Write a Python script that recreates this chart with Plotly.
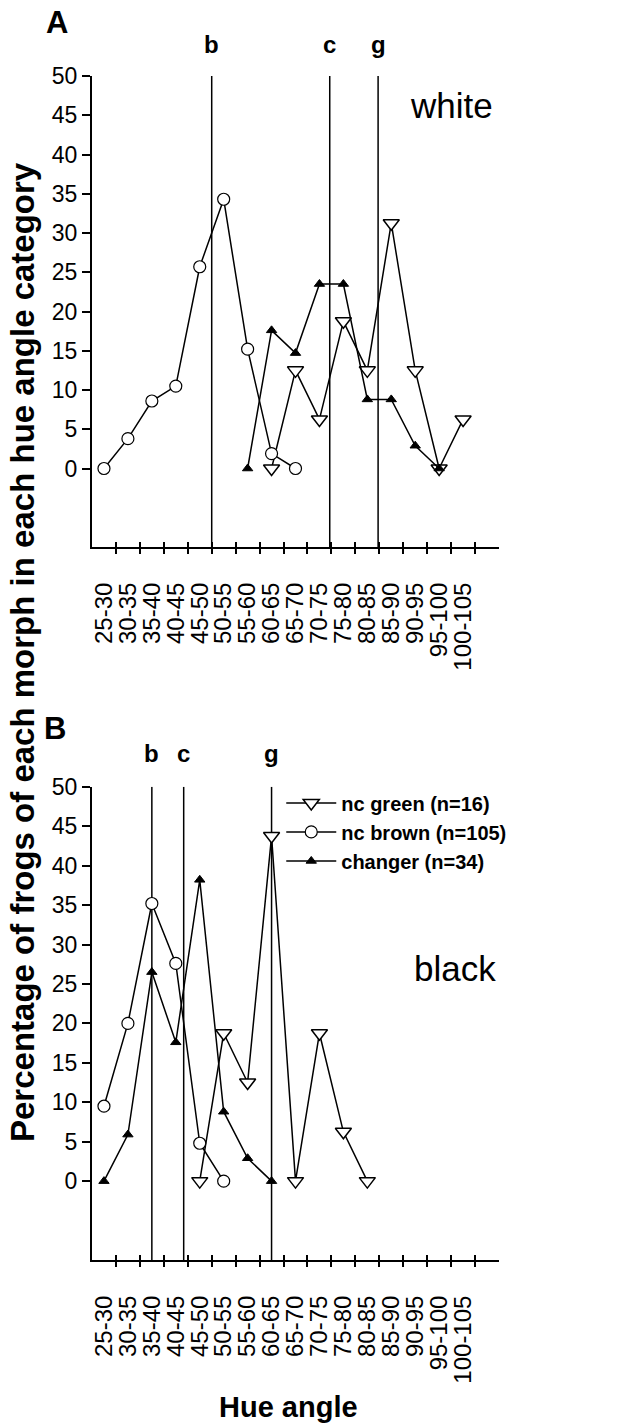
import plotly.graph_objects as go

# ---------------- data ----------------
categories = ["25-30", "30-35", "35-40", "40-45", "45-50", "50-55", "55-60", "60-65",
              "65-70", "70-75", "75-80", "80-85", "85-90", "90-95", "95-100", "100-105"]

# Panel A: white background
white_green = [None, None, None, None, None, None, None, 0.0, 12.5, 6.25, 18.75, 12.5, 31.25, 12.5, 0.0, 6.25]
white_brown = [0.0, 3.8, 8.6, 10.5, 25.7, 34.3, 15.2, 1.9, 0.0, None, None, None, None, None, None, None]
white_changer = [None, None, None, None, None, None, 0.0, 17.6, 14.7, 23.5, 23.5, 8.8, 8.8, 2.9, 0.0, None]

# Panel B: black background
black_green = [None, None, None, None, 0.0, 18.75, 12.5, 43.75, 0.0, 18.75, 6.25, 0.0, None, None, None, None]
black_brown = [9.5, 20.0, 35.2, 27.6, 4.8, 0.0, None, None, None, None, None, None, None, None, None, None]
black_changer = [0.0, 5.9, 26.5, 17.6, 38.2, 8.8, 2.9, 0.0, None, None, None, None, None, None, None, None]

# reference hue angles (in category-index units) for b, c, g
white_refs = {"b": 4.5, "c": 9.43, "g": 11.45}
black_refs = {"b": 2.0, "c": 3.33, "g": 7.0}

series_names = ["nc green (n=16)", "nc brown (n=105)", "changer (n=34)"]
y_ticks = [0, 5, 10, 15, 20, 25, 30, 35, 40, 45, 50]

# ---------------- figure ----------------
FONT = "Liberation Sans, Arial, sans-serif"
x_idx = list(range(len(categories)))
boundaries = [i + 0.5 for i in range(len(categories))]

styles = [
    dict(symbol="triangle-down", size=14, color="white", line=dict(color="black", width=1.5)),
    dict(symbol="circle", size=12, color="white", line=dict(color="black", width=1.2)),
    dict(symbol="triangle-up", size=9, color="black", line=dict(color="black", width=1)),
]

fig = go.Figure()

panels = [
    ("x", "y", [white_green, white_brown, white_changer], False),
    ("x2", "y2", [black_green, black_brown, black_changer], True),
]
for xa, ya, data, show in panels:
    for name, vals, st in zip(series_names, data, styles):
        fig.add_trace(go.Scatter(
            x=x_idx, y=vals, mode="lines+markers", name=name,
            xaxis=xa, yaxis=ya, showlegend=show,
            line=dict(color="black", width=1.5),
            marker=st, cliponaxis=False,
        ))

# invisible traces on overlay axes (for inward half of crossing ticks)
fig.add_trace(go.Scatter(x=[], y=[], xaxis="x3", yaxis="y", showlegend=False, hoverinfo="skip"))
fig.add_trace(go.Scatter(x=[], y=[], xaxis="x4", yaxis="y2", showlegend=False, hoverinfo="skip"))

xr = [-0.5, 16.5]
yr = [-10, 50]

def xaxis_cfg(anchor):
    return dict(
        range=xr, anchor=anchor, domain=[0, 1],
        tickmode="array", tickvals=x_idx, ticktext=categories, tickangle=-90,
        ticks="", showgrid=False, zeroline=False,
        showline=True, linecolor="black", linewidth=2,
        tickfont=dict(family=FONT, size=24, color="black"),
        ticklabelstandoff=24,
        minor=dict(tickmode="array", tickvals=boundaries, ticks="outside",
                   ticklen=5, tickwidth=1.5, tickcolor="black", showgrid=False),
    )

def overlay_cfg(over, anchor):
    return dict(
        overlaying=over, anchor=anchor, range=xr, tickmode="array", tickvals=boundaries,
        ticks="inside", ticklen=5, tickwidth=1.5, tickcolor="black",
        showticklabels=False, showline=False, showgrid=False, zeroline=False,
    )

def yaxis_cfg(domain, anchor):
    return dict(
        range=yr, domain=domain, anchor=anchor,
        tickmode="array", tickvals=y_ticks, ticks="outside", ticklen=8, tickwidth=1.5,
        tickcolor="black", showgrid=False, zeroline=False,
        showline=True, linecolor="black", linewidth=2,
        tickfont=dict(family=FONT, size=23, color="black"),
    )

fig.update_layout(
    width=619, height=1425,
    margin=dict(l=92, r=120, t=76, b=165),
    paper_bgcolor="white", plot_bgcolor="white",
    font=dict(family=FONT, color="black"),
    xaxis=xaxis_cfg("y"),
    xaxis2=xaxis_cfg("y2"),
    xaxis3=overlay_cfg("x", "y"),
    xaxis4=overlay_cfg("x2", "y2"),
    yaxis=yaxis_cfg([0.6022, 1.0], "x"),
    yaxis2=yaxis_cfg([0.0, 0.3997], "x2"),
    legend=dict(
        x=0.465, y=0.4025, xanchor="left", yanchor="top",
        font=dict(family=FONT, size=20, color="black", weight="bold"),
        bgcolor="rgba(0,0,0,0)", itemwidth=50, tracegroupgap=0,
    ),
    showlegend=True,
)

# reference lines
shapes = []
annotations = []
for refs, xref, yref, lab_y in [(white_refs, "x", "y", 1.0262), (black_refs, "x2", "y2", 0.4282)]:
    for lab, xv in refs.items():
        shapes.append(dict(type="line", xref=xref, yref=yref, x0=xv, x1=xv, y0=-10, y1=50,
                           line=dict(color="black", width=1.5), layer="below"))
        annotations.append(dict(text=lab, xref=xref, yref="paper", x=xv, y=lab_y,
                                showarrow=False, xanchor="center", yanchor="middle",
                                font=dict(family=FONT, size=24, color="black", weight="bold")))

annotations += [
    dict(text="A", xref="paper", yref="paper", x=-0.086, y=1.0456, showarrow=False,
         xanchor="center", yanchor="middle", font=dict(family=FONT, size=31, weight="bold")),
    dict(text="B", xref="paper", yref="paper", x=-0.091, y=0.4493, showarrow=False,
         xanchor="center", yanchor="middle", font=dict(family=FONT, size=31, weight="bold")),
    dict(text="white", xref="paper", yref="paper", x=0.8845, y=0.9755, showarrow=False,
         xanchor="center", yanchor="middle", font=dict(family=FONT, size=35)),
    dict(text="black", xref="paper", yref="paper", x=0.892, y=0.2466, showarrow=False,
         xanchor="center", yanchor="middle", font=dict(family=FONT, size=35)),
    dict(text="Percentage of frogs of each morph in each hue angle category",
         xref="paper", yref="paper", x=-0.1720, y=0.5135, textangle=-90, showarrow=False,
         xanchor="center", yanchor="middle", font=dict(family=FONT, size=33, weight="bold")),
    dict(text="Hue angle", xref="paper", yref="paper", x=0.4816, y=-0.1242, showarrow=False,
         xanchor="center", yanchor="middle", font=dict(family=FONT, size=29, weight="bold")),
]

fig.update_layout(shapes=shapes, annotations=annotations)
fig.write_html("out.html")
